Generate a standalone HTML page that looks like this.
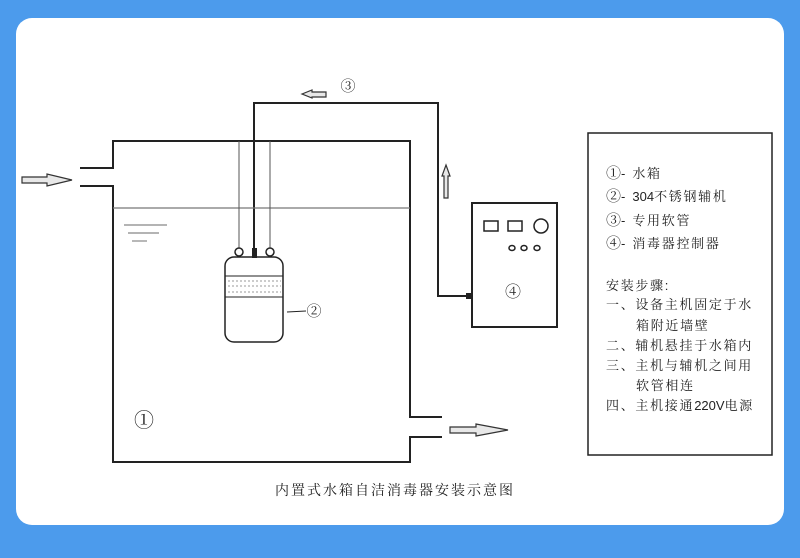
<!DOCTYPE html>
<html><head><meta charset="utf-8"><style>
html,body{margin:0;padding:0;background:#4c9bec;width:800px;height:558px;overflow:hidden}
.card{position:absolute;left:16px;top:18px;width:768px;height:507px;background:#fff;border-radius:16px}
svg{position:absolute;left:0;top:0}
text{font-family:"Liberation Sans","Noto Serif CJK SC","Noto Sans CJK SC",sans-serif;fill:#222}
</style></head><body>
<div class="card"></div>
<svg width="800" height="558" viewBox="0 0 800 558">
<g stroke="#222" stroke-width="2" fill="none">
<polyline points="80,168 113,168 113,141 410,141 410,417 442,417"/>
<polyline points="80,186 113,186 113,462 410,462 410,437 442,437"/>
<polyline points="254,253 254,103 438,103 438,296 470,296"/>
<rect x="472" y="203" width="85" height="124"/>
<rect x="588" y="133" width="184" height="322" stroke-width="1.5"/>
</g>
<rect x="466" y="293" width="6" height="6" fill="#222"/>
<line x1="113" y1="208" x2="410" y2="208" stroke="#777" stroke-width="1.2"/>
<g stroke="#888" stroke-width="1.2"><line x1="124" y1="225" x2="167" y2="225"/><line x1="128" y1="233" x2="159" y2="233"/><line x1="132" y1="241" x2="147" y2="241"/></g>
<g stroke="#555" stroke-width="1"><line x1="239" y1="141" x2="239" y2="248"/><line x1="270" y1="141" x2="270" y2="248"/></g>
<g stroke="#222" stroke-width="1.5" fill="none">
<circle cx="239" cy="252" r="4"/><circle cx="270" cy="252" r="4"/>
<rect x="225" y="257" width="58" height="85" rx="9"/>
<line x1="225" y1="276" x2="283" y2="276" stroke-width="1"/><line x1="225" y1="297" x2="283" y2="297" stroke-width="1"/>
<line x1="287" y1="312" x2="306" y2="311" stroke-width="1"/>
</g>
<rect x="252" y="248" width="5" height="10" fill="#222"/>
<g fill="none" stroke="#999" stroke-width="1" stroke-dasharray="2 2"><line x1="228" y1="281" x2="281" y2="281"/><line x1="228" y1="286" x2="281" y2="286"/><line x1="228" y1="292" x2="281" y2="292"/></g>
<g stroke="#222" stroke-width="1.5" fill="none">
<rect x="484" y="221" width="14" height="10"/><rect x="508" y="221" width="14" height="10"/>
<circle cx="541" cy="226" r="7"/>
<ellipse cx="512" cy="248" rx="3" ry="2.5"/><ellipse cx="524" cy="248" rx="3" ry="2.5"/><ellipse cx="537" cy="248" rx="3" ry="2.5"/>
</g>
<g stroke="#333" stroke-width="1.2" fill="#e8e8e8">
<polygon points="22,177 47,177 47,174 72,180 47,186 47,183 22,183"/>
<polygon points="450,427 476,427 476,424 508,430 476,436 476,433 450,433"/>
<polygon points="302,94 312,90 312,92 326,92 326,97 312,97 312,98"/>
<polygon points="446,165 450,176 448,176 448,198 444,198 444,176 442,176"/>
</g>
<text x="348" y="91" font-size="15" text-anchor="middle">③</text>
<text x="314" y="316" font-size="15" text-anchor="middle">②</text>
<text x="513" y="297" font-size="16" text-anchor="middle">④</text>
<text x="144" y="427" font-size="20" text-anchor="middle">①</text>
<text x="395" y="495" font-size="14" text-anchor="middle" letter-spacing="2">内置式水箱自洁消毒器安装示意图</text>
<g font-size="13" letter-spacing="1.7">
<text x="606" y="178"><tspan font-size="15" letter-spacing="0">①</tspan>- 水箱</text>
<text x="606" y="201"><tspan font-size="15" letter-spacing="0">②</tspan>- <tspan letter-spacing="0">304</tspan>不锈钢辅机</text>
<text x="606" y="225"><tspan font-size="15" letter-spacing="0">③</tspan>- 专用软管</text>
<text x="606" y="248"><tspan font-size="15" letter-spacing="0">④</tspan>- 消毒器控制器</text>
<text x="606" y="290">安装步骤:</text>
<text x="606" y="309">一、设备主机固定于水</text>
<text x="636" y="330">箱附近墙壁</text>
<text x="606" y="350">二、辅机悬挂于水箱内</text>
<text x="606" y="370">三、主机与辅机之间用</text>
<text x="636" y="390">软管相连</text>
<text x="606" y="410">四、主机接通<tspan letter-spacing="0">220V</tspan>电源</text>
</g>
</svg>
</body></html>
